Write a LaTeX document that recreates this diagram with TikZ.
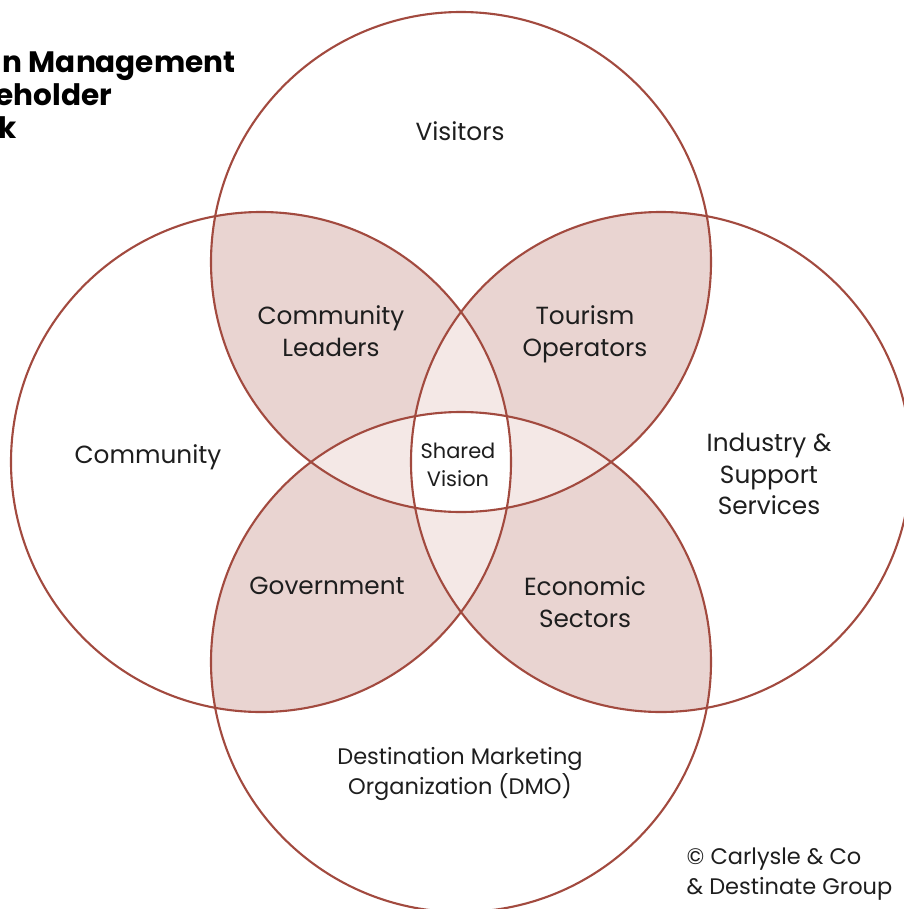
\documentclass[tikz,border=0pt]{standalone}
\usepackage{fontspec}
\setmainfont{Poppins}
\definecolor{ringcol}{HTML}{A24A3F}
\definecolor{pairfill}{HTML}{E9D4D1}
\definecolor{triplefill}{HTML}{F4E8E6}
\definecolor{textcol}{HTML}{1E1E1E}

\begin{document}
\begin{tikzpicture}[
        ring/.style={draw=ringcol, line width=0.6pt},
        group/.style={align=center, text=textcol, font=\fontsize{7.05}{9.07}\selectfont},
        note/.style={align=center, text=textcol, font=\fontsize{6.4}{8.4}\selectfont},
        small/.style={align=center, text=textcol, font=\fontsize{5.95}{7.9}\selectfont},
        heading/.style={anchor=base west, inner sep=0pt, text=black, font=\fontsize{8.4}{10}\bfseries\selectfont}
    ]

    \useasboundingbox (0,0) rectangle (9.03,-9.09);

    % Circle centres
    \coordinate (visitors) at (4.61,-2.62);
    \coordinate (community) at (2.61,-4.62);
    \coordinate (industry) at (6.61,-4.62);
    \coordinate (dmo) at (4.61,-6.62);

    % Overlaps of two neighbouring circles
    \begin{scope}
        \clip (visitors) circle (2.5);
        \fill[pairfill] (community) circle (2.5);
        \fill[pairfill] (industry) circle (2.5);
    \end{scope}
    \begin{scope}
        \clip (dmo) circle (2.5);
        \fill[pairfill] (community) circle (2.5);
        \fill[pairfill] (industry) circle (2.5);
    \end{scope}

    % Overlaps of three circles
    \begin{scope}
        \clip (visitors) circle (2.5);
        \clip (dmo) circle (2.5);
        \fill[triplefill] (community) circle (2.5);
        \fill[triplefill] (industry) circle (2.5);
    \end{scope}
    \begin{scope}
        \clip (community) circle (2.5);
        \clip (industry) circle (2.5);
        \fill[triplefill] (visitors) circle (2.5);
        \fill[triplefill] (dmo) circle (2.5);
    \end{scope}

    % All four overlap
    \begin{scope}
        \clip (visitors) circle (2.5);
        \clip (dmo) circle (2.5);
        \clip (community) circle (2.5);
        \fill[white] (industry) circle (2.5);
    \end{scope}

    % The four rings
    \draw[ring] (visitors) circle (2.5);
    \draw[ring] (community) circle (2.5);
    \draw[ring] (industry) circle (2.5);
    \draw[ring] (dmo) circle (2.5);

    % Labels
    \node[group] (visitorsLabel) at (4.60,-1.31) {Visitors};
    \node[group] (communityLabel) at (1.48,-4.57) {Community};
    \node[group] (industryLabel) at (7.69,-4.74) {Industry \&\\Support\\Services};
    \node[note] (dmoLabel) at (4.60,-7.74) {Destination Marketing\\Organization (DMO)};
    \node[group] (leaders) at (3.31,-3.31) {Community\\Leaders};
    \node[group] (operators) at (5.85,-3.34) {Tourism\\Operators};
    \node[group] (government) at (3.27,-5.86) {Government};
    \node[group] (sectors) at (5.85,-6.02) {Economic\\Sectors};
    \node[small] (vision) at (4.58,-4.65) {Shared\\Vision};

    % Title, cut by the left edge
    \node[heading] (title1) at (0.02,-0.72) {n Management};
    \node[heading] (title2) at (-0.05,-1.05) {eholder};
    \node[heading] (title3) at (-0.02,-1.38) {k};

    % Credit
    \node[note, align=left, anchor=west, inner sep=0pt] (credit) at (6.86,-8.74) {© Carlysle \& Co\\\& Destinate Group};

\end{tikzpicture}
\end{document}
